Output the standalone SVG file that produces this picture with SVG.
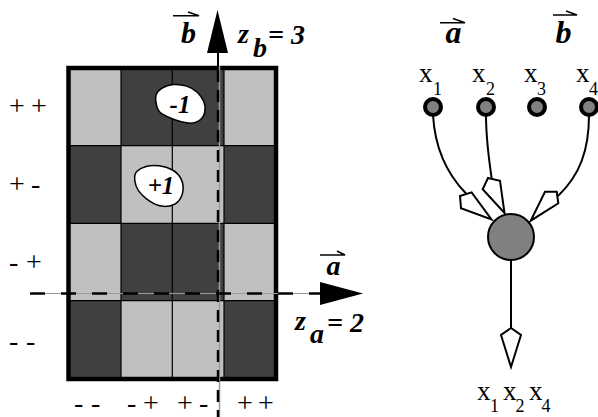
<svg xmlns="http://www.w3.org/2000/svg" width="598" height="417" viewBox="0 0 598 417">
<style>
.dk{fill:#404040}
.lt{fill:#c0c0c0}
.gl{stroke:#000;stroke-width:1.2}
.sg{font-family:"Liberation Serif",serif;font-size:28px;fill:#000}
.bi{font-family:"Liberation Serif",serif;font-weight:bold;font-style:italic;fill:#000}
.xr{font-family:"Liberation Serif",serif;fill:#000}
.vec{stroke:#000;stroke-width:1.5;fill:none}
.blob{fill:#fff;stroke:#000;stroke-width:1.5}
.inp{fill:#808080;stroke:#000;stroke-width:4}
.kite{fill:#fff;stroke:#000;stroke-width:2;stroke-linejoin:miter}
.wire{fill:none;stroke:#000;stroke-width:2}
</style>
<rect width="598" height="417" fill="#fff"/>
<g id="grid">
<rect class="lt" x="68.5" y="68" width="52.5" height="77.7"/>
<rect class="dk" x="121" y="68" width="51.3" height="77.7"/>
<rect class="dk" x="172.3" y="68" width="51.7" height="77.7"/>
<rect class="lt" x="224" y="68" width="52" height="77.7"/>
<rect class="dk" x="68.5" y="145.7" width="52.5" height="77.6"/>
<rect class="lt" x="121" y="145.7" width="51.3" height="77.6"/>
<rect class="lt" x="172.3" y="145.7" width="51.7" height="77.6"/>
<rect class="dk" x="224" y="145.7" width="52" height="77.6"/>
<rect class="lt" x="68.5" y="223.3" width="52.5" height="77.4"/>
<rect class="dk" x="121" y="223.3" width="51.3" height="77.4"/>
<rect class="dk" x="172.3" y="223.3" width="51.7" height="77.4"/>
<rect class="lt" x="224" y="223.3" width="52" height="77.4"/>
<rect class="dk" x="68.5" y="300.7" width="52.5" height="78.3"/>
<rect class="lt" x="121" y="300.7" width="51.3" height="78.3"/>
<rect class="lt" x="172.3" y="300.7" width="51.7" height="78.3"/>
<rect class="dk" x="224" y="300.7" width="52" height="78.3"/>
<line class="gl" x1="121" y1="68" x2="121" y2="379"/>
<line class="gl" x1="172.3" y1="68" x2="172.3" y2="379"/>
<line class="gl" x1="224" y1="68" x2="224" y2="379"/>
<line class="gl" x1="68.5" y1="145.7" x2="276" y2="145.7"/>
<line class="gl" x1="68.5" y1="223.3" x2="276" y2="223.3"/>
<line class="gl" x1="68.5" y1="300.7" x2="276" y2="300.7"/>
<rect x="68.5" y="68" width="207.5" height="311" fill="none" stroke="#000" stroke-width="4.5"/>
</g>
<g id="blob-minus1">
<path class="blob" d="M161.7,88.35 Q166.7,85 173.35,84.5 Q180,84 186.65,86.15 Q193.3,88.3 197.5,92.5 Q201.7,96.7 203.85,101.7 Q206,106.7 204.65,112.5 Q203.3,118.3 198.3,121.15 Q193.3,124 186.65,122.85 Q180,121.7 173.35,119.2 Q166.7,116.7 162.5,114.2 Q158.3,111.7 156.65,105.85 Q155,100 155.85,95.85 Q156.7,91.7 161.7,88.35 Z"/>
<text class="bi" x="180" y="113" font-size="25" text-anchor="middle">-1</text>
</g>
<g id="blob-plus1">
<path class="blob" d="M137.25,171 Q140.5,168 146.1,166.5 Q151.7,165 159.2,165.85 Q166.7,166.7 172.5,170 Q178.3,173.3 181.15,179.15 Q184,185 182.85,191.65 Q181.7,198.3 177.5,202.15 Q173.3,206 166.65,206.35 Q160,206.7 155,204.2 Q150,201.7 145.85,198.35 Q141.7,195 138.6,190.85 Q135.5,186.7 134.75,180.35 Q134,174 137.25,171 Z"/>
<text class="bi" x="161" y="194" font-size="25" text-anchor="middle">+1</text>
</g>
<g id="axes">
<line x1="219.5" y1="66" x2="219.5" y2="417" stroke="#9a9a9a" stroke-width="1.5"/>
<line x1="218" y1="70" x2="218" y2="417" stroke="#000" stroke-width="2.5" stroke-dasharray="12 8"/>
<line x1="218" y1="52" x2="218" y2="67" stroke="#000" stroke-width="2"/>
<polygon points="217.5,10 207,53 228,53" fill="#000"/>
<line x1="30" y1="293.5" x2="322" y2="293.5" stroke="#9a9a9a" stroke-width="1.2"/>
<line x1="30" y1="293.5" x2="322" y2="293.5" stroke="#000" stroke-width="2.5" stroke-dasharray="15 16"/>
<polygon points="363,293.5 320,282 320,305" fill="#000"/>
</g>
<g id="axis-labels">
<text class="bi" x="188.5" y="43" font-size="30" text-anchor="middle">b</text>
<path class="vec" d="M173,15.7 H199 L188,12"/>
<text class="bi" x="238" y="43" font-size="28">z</text>
<text class="bi" x="253" y="57" font-size="28">b</text>
<text class="bi" x="268" y="44" font-size="28">= 3</text>
<text class="bi" x="333.5" y="275" font-size="28" text-anchor="middle">a</text>
<path class="vec" d="M320,255 H345 L337,251"/>
<text class="bi" x="295" y="330" font-size="28">z</text>
<text class="bi" x="310" y="343" font-size="28">a</text>
<text class="bi" x="327" y="332" font-size="28">= 2</text>
</g>
<g id="row-labels">
<text class="sg" x="9" y="115">+</text><text class="sg" x="31" y="115">+</text>
<text class="sg" x="9" y="193">+</text><text class="sg" x="31" y="193">-</text>
<text class="sg" x="9" y="271">-</text><text class="sg" x="26" y="271">+</text>
<text class="sg" x="9" y="350">-</text><text class="sg" x="26" y="350">-</text>
</g>
<g id="col-labels">
<text class="sg" x="74" y="412">-</text><text class="sg" x="91" y="412">-</text>
<text class="sg" x="127" y="412">-</text><text class="sg" x="143" y="412">+</text>
<text class="sg" x="177" y="412">+</text><text class="sg" x="199" y="412">-</text>
<text class="sg" x="237" y="412">+</text><text class="sg" x="258" y="412">+</text>
</g>
<g id="vec-labels">
<text class="bi" x="453.5" y="43" font-size="32" text-anchor="middle">a</text>
<path class="vec" d="M440,22.7 H465 L453,18.5"/>
<text class="bi" x="563.5" y="43" font-size="32" text-anchor="middle">b</text>
<path class="vec" d="M553,15 H577 L566,11"/>
</g>
<g id="connectors">
<path class="wire" d="M433,115 C435,150 448,175 466,193.5"/>
<path class="wire" d="M486,115 C486,140 489,160 491.7,178.6"/>
<path class="wire" d="M589,115 C589,150 580,175 558,196"/>
<line class="wire" x1="511" y1="260" x2="511" y2="328"/>
<polygon class="kite" points="460,196 471.6,192.4 491.5,219.4 461,208.3"/>
<polygon class="kite" points="488,178 500,180.7 504.5,213 482.7,189.3"/>
<polygon class="kite" points="556.7,191.7 545,191.7 530.7,220.7 558.3,203.3"/>
<polygon class="kite" points="511,328 521,335 511,367 501,335"/>
</g>
<g id="x1"><circle class="inp" cx="433" cy="107" r="8"/><text class="xr" x="419" y="82" font-size="27">x</text><text class="xr" x="433" y="95" font-size="18">1</text></g>
<g id="x2"><circle class="inp" cx="486" cy="107" r="8"/><text class="xr" x="472" y="82" font-size="27">x</text><text class="xr" x="486" y="95" font-size="18">2</text></g>
<g id="x3"><circle class="inp" cx="537" cy="107" r="8"/><text class="xr" x="524" y="82" font-size="27">x</text><text class="xr" x="537" y="95" font-size="18">3</text></g>
<g id="x4"><circle class="inp" cx="589" cy="107" r="8"/><text class="xr" x="576" y="82" font-size="27">x</text><text class="xr" x="589" y="95" font-size="18">4</text></g>
<g id="neuron"><circle cx="511" cy="237" r="23" fill="#808080" stroke="#000" stroke-width="2"/></g>
<g id="output-label">
<text class="xr" x="477" y="400" font-size="27">x</text><text class="xr" x="490" y="412" font-size="18">1</text>
<text class="xr" x="503" y="400" font-size="27">x</text><text class="xr" x="515.5" y="412" font-size="18">2</text>
<text class="xr" x="529" y="400" font-size="27">x</text><text class="xr" x="541.5" y="412" font-size="18">4</text>
</g>
</svg>
